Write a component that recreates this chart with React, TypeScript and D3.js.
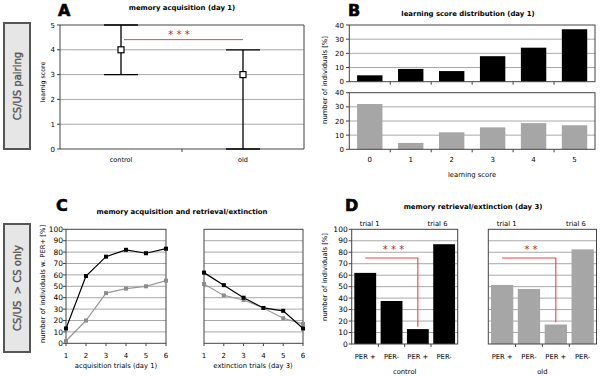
import React from "react";
import * as d3 from "d3";

// ---------- data ----------
const groupsA = ["control", "old"];
const meanA = [4, 3];
const lowA = [3, 0];
const highA = [5, 4];
const ticksA = [0, 1, 2, 3, 4, 5];

const scoresB = ["0", "1", "2", "3", "4", "5"];
const controlB = [4.5, 9, 7.5, 18, 24, 37];
const oldB = [32, 4.5, 12, 15.5, 18.5, 17];
const ticksB = [0, 10, 20, 30, 40];

const trialsC = [1, 2, 3, 4, 5, 6];
const acqControl = [13, 59, 76, 82, 79, 83];
const acqOld = [2, 20, 44, 48, 50, 55];
const extControl = [62, 51, 40, 31, 28.5, 13];
const extOld = [52, 42, 38, 31, 22, 17];
const ticksPct = [0, 10, 20, 30, 40, 50, 60, 70, 80, 90, 100];

const barKeysD = ["t1p", "t1m", "t6p", "t6m"];
const barLabelsD = ["PER +", "PER-", "PER +", "PER-"];
const controlD = [62, 37.5, 13, 87];
const oldD = [51.5, 48, 17, 82.5];

const FONT = "'DejaVu Sans', Verdana, sans-serif";
const GRID = "#a8a8a8";
const FRAME = "#444";
const GRAYBAR = "#a6a6a6";
const RED = "#e04848";
const STAR = "#a83232";

function SideBox({ x, y, w, h, label }: any) {
  return (
    <g>
      <rect x={x} y={y} width={w} height={h} fill="#e6e6e6" stroke="#555" strokeWidth={2} />
      <text
        transform={`translate(${x + w / 2 + 3.5},${y + h / 2}) rotate(-90)`}
        textAnchor="middle"
        fontFamily={FONT}
        fontSize={10}
        fill="#555"
        stroke="#555"
        strokeWidth={0.35}
        style={{ whiteSpace: "pre" }}
      >
        {label}
      </text>
    </g>
  );
}

function Letter({ x, y, t }: any) {
  return (
    <text x={x} y={y} fontFamily={FONT} fontWeight="bold" fontSize={16} fill="#000" stroke="#000" strokeWidth={0.6}>
      {t}
    </text>
  );
}

function Title({ x, y, t }: any) {
  return (
    <text x={x} y={y} textAnchor="middle" fontFamily={FONT} fontWeight="bold" fontSize={6.9} fill="#000">
      {t}
    </text>
  );
}

function YLabel({ x, y, t, size = 6.8 }: any) {
  return (
    <text transform={`translate(${x},${y}) rotate(-90)`} textAnchor="middle" fontFamily={FONT} fontSize={size} fill="#000">
      {t}
    </text>
  );
}

function PanelA() {
  const x = d3.scaleBand().domain(groupsA).range([60, 304]);
  const y = d3.scaleLinear().domain([0, 5]).range([149, 25]);
  const bw = x.bandwidth();
  const cap = 17;
  return (
    <g>
      <Letter x={58} y={16} t="A" />
      <Title x={182} y={10} t="memory acquisition (day 1)" />
      {ticksA.map((t) => (
        <g key={t}>
          <line x1={60} x2={304} y1={y(t)} y2={y(t)} stroke={t === 0 || t === 5 ? FRAME : GRID} strokeWidth={1} />
          <line x1={57} x2={60} y1={y(t)} y2={y(t)} stroke={FRAME} />
          <text x={55} y={y(t) + 2.5} textAnchor="end" fontFamily={FONT} fontSize={7} fill="#000">
            {t}
          </text>
        </g>
      ))}
      <line x1={60} x2={60} y1={25} y2={149} stroke={FRAME} />
      <line x1={304} x2={304} y1={25} y2={149} stroke={FRAME} />
      <line x1={182} x2={182} y1={149} y2={152} stroke={FRAME} />
      {groupsA.map((g, i) => {
        const cx = (x(g) as number) + bw / 2;
        return (
          <g key={g}>
            <line x1={cx} x2={cx} y1={y(lowA[i])} y2={y(highA[i])} stroke="#000" strokeWidth={1.3} />
            <line x1={cx - cap} x2={cx + cap} y1={y(lowA[i])} y2={y(lowA[i])} stroke="#000" strokeWidth={1.3} />
            <line x1={cx - cap} x2={cx + cap} y1={y(highA[i])} y2={y(highA[i])} stroke="#000" strokeWidth={1.3} />
            <rect x={cx - 3} y={y(meanA[i]) - 3} width={6} height={6} fill="#fff" stroke="#000" strokeWidth={1.2} />
            <text x={cx} y={162} textAnchor="middle" fontFamily={FONT} fontSize={6.5} fill="#000">
              {g}
            </text>
          </g>
        );
      })}
      <line
        x1={(x("control") as number) + bw / 2 + 3}
        x2={(x("old") as number) + bw / 2}
        y1={y(4.41)}
        y2={y(4.41)}
        stroke={RED}
        strokeWidth={1}
      />
      <text x={179} y={38} textAnchor="middle" fontFamily={FONT} fontSize={10} fill={STAR} style={{ whiteSpace: "pre" }}>
        * * *
      </text>
      <YLabel x={45} y={82} t="learnig score" size={6.3} />
    </g>
  );
}

function PanelB() {
  const x = d3.scaleBand().domain(scoresB).range([349.3, 595]).paddingInner(0.38).paddingOuter(0.19);
  const yTop = d3.scaleLinear().domain([0, 40]).range([81.7, 25]);
  const yBot = d3.scaleLinear().domain([0, 40]).range([149.3, 92.7]);
  const sub = (y: any, vals: number[], fill: string, key: string) => (
    <g key={key}>
      {ticksB.map((t) => (
        <g key={t}>
          {t > 0 && t < 40 && <line x1={349.3} x2={595} y1={y(t)} y2={y(t)} stroke={GRID} />}
          <line x1={346} x2={349.3} y1={y(t)} y2={y(t)} stroke={FRAME} />
          <text x={344} y={y(t) + 2.5} textAnchor="end" fontFamily={FONT} fontSize={7} fill="#000">
            {t}
          </text>
        </g>
      ))}
      {scoresB.map((s, i) => (
        <rect key={s} x={x(s)} y={y(vals[i])} width={x.bandwidth()} height={y(0) - y(vals[i])} fill={fill} />
      ))}
      <rect x={349.3} y={y(40)} width={595 - 349.3} height={y(0) - y(40)} fill="none" stroke={FRAME} />
      {scoresB.map((s, i) =>
        i > 0 ? (
          <line key={s} x1={(x(s) as number) - (x.step() - x.bandwidth()) / 2} x2={(x(s) as number) - (x.step() - x.bandwidth()) / 2} y1={y(0)} y2={y(0) + 3} stroke={FRAME} />
        ) : null
      )}
    </g>
  );
  return (
    <g>
      <Letter x={348} y={16} t="B" />
      <Title x={468} y={16} t="learning score distribution (day 1)" />
      {sub(yTop, controlB, "#000", "top")}
      {sub(yBot, oldB, GRAYBAR, "bot")}
      {scoresB.map((s) => (
        <text key={s} x={(x(s) as number) + x.bandwidth() / 2} y={162} textAnchor="middle" fontFamily={FONT} fontSize={7} fill="#000">
          {s}
        </text>
      ))}
      <text x={472} y={177} textAnchor="middle" fontFamily={FONT} fontSize={6.8} fill="#000">
        learning score
      </text>
      <YLabel x={327} y={80} t="number of individuals [%]" />
    </g>
  );
}

function LinePlot({ x0, x1, ctrl, old, showY }: any) {
  const x = d3.scaleLinear().domain([1, 6]).range([x0, x1]);
  const y = d3.scaleLinear().domain([0, 100]).range([343.3, 229.3]);
  const line = d3
    .line<number>()
    .x((_, i) => x(trialsC[i]))
    .y((d) => y(d));
  return (
    <g>
      {ticksPct.map((t) => (
        <g key={t}>
          {t > 0 && t < 100 && <line x1={x0} x2={x1} y1={y(t)} y2={y(t)} stroke={GRID} />}
          {showY && (
            <>
              <line x1={x0 - 3} x2={x0} y1={y(t)} y2={y(t)} stroke={FRAME} />
              <text x={x0 - 3} y={y(t) + 2.7} textAnchor="end" fontFamily={FONT} fontSize={7.5} fill="#000">
                {t}
              </text>
            </>
          )}
        </g>
      ))}
      <rect x={x0} y={y(100)} width={x1 - x0} height={y(0) - y(100)} fill="none" stroke={FRAME} />
      <path d={line(old) as string} fill="none" stroke="#999" strokeWidth={1.2} />
      <path d={line(ctrl) as string} fill="none" stroke="#000" strokeWidth={1.2} />
      {old.map((v: number, i: number) => (
        <rect key={"o" + i} x={x(trialsC[i]) - 2} y={y(v) - 2} width={4} height={4} fill="#8c8c8c" />
      ))}
      {ctrl.map((v: number, i: number) => (
        <rect key={"c" + i} x={x(trialsC[i]) - 2} y={y(v) - 2} width={4} height={4} fill="#000" />
      ))}
      {trialsC.map((t) => (
        <g key={t}>
          <line x1={x(t)} x2={x(t)} y1={343.3} y2={346} stroke={FRAME} />
          <text x={x(t)} y={357.5} textAnchor="middle" fontFamily={FONT} fontSize={7} fill="#000">
            {t}
          </text>
        </g>
      ))}
    </g>
  );
}

function PanelC() {
  return (
    <g>
      <Letter x={56} y={211} t="C" />
      <Title x={182} y={214} t="memory acquisition and retrieval/extinction" />
      <LinePlot x0={66} x1={166} ctrl={acqControl} old={acqOld} showY={true} />
      <LinePlot x0={204} x1={303} ctrl={extControl} old={extOld} showY={false} />
      <text x={116} y={368} textAnchor="middle" fontFamily={FONT} fontSize={6.8} fill="#000">
        acquisition trials (day 1)
      </text>
      <text x={253} y={368} textAnchor="middle" fontFamily={FONT} fontSize={6.8} fill="#000">
        extinction trials (day 3)
      </text>
      <YLabel x={45} y={284} t="number of individuals w. PER+ [%]" />
    </g>
  );
}

function BarPlot({ x0, x1, vals, fill, showY, group, stars, sigTop }: any) {
  const x = d3.scaleBand().domain(barKeysD).range([x0, x1]).paddingInner(0.17).paddingOuter(0.1);
  const y = d3.scaleLinear().domain([0, 100]).range([344, 229.3]);
  const cx = (k: string) => (x(k) as number) + x.bandwidth() / 2;
  const w = x1 - x0;
  return (
    <g>
      {ticksPct.map((t) => (
        <g key={t}>
          {t > 0 && t < 100 && <line x1={x0} x2={x1} y1={y(t)} y2={y(t)} stroke={GRID} />}
          {showY && (
            <>
              <line x1={x0 - 3} x2={x0} y1={y(t)} y2={y(t)} stroke={FRAME} />
              <text x={x0 - 4} y={y(t) + 2.7} textAnchor="end" fontFamily={FONT} fontSize={7.5} fill="#000">
                {t}
              </text>
            </>
          )}
        </g>
      ))}
      {barKeysD.map((k, i) => (
        <rect key={k} x={x(k)} y={y(vals[i])} width={x.bandwidth()} height={y(0) - y(vals[i])} fill={fill} />
      ))}
      <rect x={x0} y={y(100)} width={w} height={y(0) - y(100)} fill="none" stroke={FRAME} />
      {barKeysD.map((k, i) => (
        <g key={"l" + k}>
          {i > 0 && (
            <line x1={(x(k) as number) - (x.step() - x.bandwidth()) / 2} x2={(x(k) as number) - (x.step() - x.bandwidth()) / 2} y1={344} y2={347} stroke={FRAME} />
          )}
          <text x={cx(k)} y={359} textAnchor="middle" fontFamily={FONT} fontSize={6.8} fill="#000">
            {barLabelsD[i]}
          </text>
        </g>
      ))}
      <text x={x0 + w * 0.17} y={226} textAnchor="middle" fontFamily={FONT} fontSize={6.8} fill="#000">
        trial 1
      </text>
      <text x={x0 + w * 0.81} y={226} textAnchor="middle" fontFamily={FONT} fontSize={6.8} fill="#000">
        trial 6
      </text>
      <text x={(x0 + x1) / 2} y={374} textAnchor="middle" fontFamily={FONT} fontSize={6.8} fill="#000">
        {group}
      </text>
      <polyline
        points={`${cx("t1p")},${y(75)} ${cx("t6p")},${y(75)} ${cx("t6p")},${y(sigTop)}`}
        fill="none"
        stroke={RED}
        strokeWidth={1.1}
      />
      <text x={(cx("t1p") + cx("t6p")) / 2 + 2} y={253} textAnchor="middle" fontFamily={FONT} fontSize={10} fill={STAR} style={{ whiteSpace: "pre" }}>
        {stars}
      </text>
    </g>
  );
}

function PanelD() {
  return (
    <g>
      <Letter x={345} y={211} t="D" />
      <Title x={473} y={209} t="memory retrieval/extinction (day 3)" />
      <BarPlot x0={351.7} x1={457.7} vals={controlD} fill="#000" showY={true} group="control" stars="* * *" sigTop={15} />
      <BarPlot x0={488.3} x1={596.5} vals={oldD} fill={GRAYBAR} showY={false} group="old" stars="* *" sigTop={19} />
      <YLabel x={327} y={277} t="number of individuals [%]" />
    </g>
  );
}

export default function App() {
  return (
    <svg
      width={600}
      height={376}
      viewBox="0 0 600 376"
      style={{ position: "absolute", left: 0, top: 0, background: "#fff" }}
    >
      <rect x={0} y={0} width={600} height={376} fill="#fff" />
      <SideBox x={4} y={23} w={26} h={126} label="CS/US pairing" />
      <SideBox x={4} y={224} w={26} h={128} label="CS/US  > CS only" />
      <PanelA />
      <PanelB />
      <PanelC />
      <PanelD />
    </svg>
  );
}
